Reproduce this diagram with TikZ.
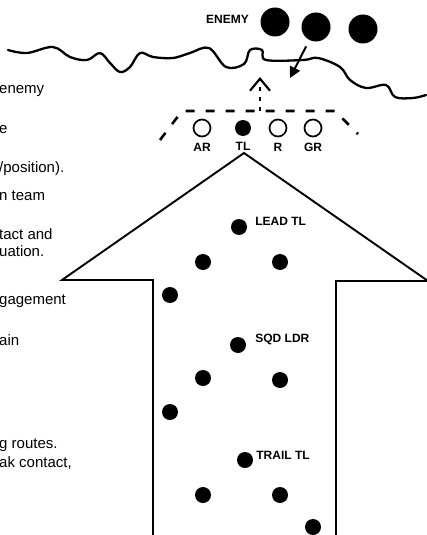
\documentclass[tikz,border=0pt]{standalone}
\usepackage{fontspec}
\setmainfont{Liberation Sans}
\usetikzlibrary{arrows.meta,positioning}

\begin{document}
\begin{tikzpicture}[
					x=1pt,y=-1pt,
					foe/.style={circle,fill=black,inner sep=0pt,minimum size=29pt},
					man/.style={circle,fill=black,inner sep=0pt,minimum size=16pt},
					spot/.style={circle,draw,line width=1.7pt,inner sep=0pt,minimum size=17pt},
					tag/.style={font=\fontsize{12}{12}\selectfont\bfseries,inner sep=0pt},
					note/.style={font=\fontsize{15}{13}\selectfont,inner sep=0pt,anchor=base west},
					fline/.style={line width=2.6pt,dash pattern=on 9pt off 11pt},
					aline/.style={line width=1.9pt,line join=miter}
					]
					\useasboundingbox (0,0) rectangle (426,535);
					% left hand notes, cut at the edge
					\foreach \t/\y in {{enemy}/93,{e}/133,{\slash position).}/172,{n team}/200,{tact and}/239,{uation.}/256,{gagement}/304,{ain}/345,{g routes.}/448,{ak contact,}/467}{
						\node[note] at (-1,\y) {\t};
					}
					% enemy and the terrain line
					\foreach \i/\x/\y in {1/275/22,2/316/27,3/363/29}{
						\node[foe] (e\i) at (\x,\y) {};
					}
					\node[tag,anchor=east] (enemy) at (249,19) {ENEMY};
					\draw[line width=2.3pt,line cap=round] plot[smooth,tension=0.6] coordinates {(8,50) (27,53) (53,47) (70,57) (87,60) (100,53) (110,63) (120,72) (130,67) (140,53) (153,57) (173,58) (190,53) (209,48) (226,67) (244,64) (250,50) (262,50) (266,60) (303,60) (318,58) (340,67) (350,80) (366,88) (386,85) (395,97) (413,98) (426,95)};
					\coordinate (hit) at (290,78);
					\draw[line width=2pt,shorten <=7pt,-{Triangle[length=11pt,width=11pt]}] (e2) -- (hit);
					% fire team in line
					\draw[fline] (160,140) -- (182,111) -- (335,111) -- (358,134);
					\draw[line width=1.4pt,dash pattern=on 4pt off 6pt,-{Straight Barb[length=12pt,width=20pt,line width=2.2pt]}] (260,111) -- (260,77);
					\foreach \n/\x/\s/\t in {ar/202/spot/AR,tl/243/man/TL,r/278/spot/R,gr/313/spot/GR}{
						\node[\s] (\n) at (\x,128) {};
						\node[tag,below=6pt of \n] (\n t) {\t};
					}
					% big arrow
					\draw[aline] (153,537) -- (153,280) -- (62,280) -- (244,153) -- (428,281) -- (336,281) -- (336,537);
					\foreach \n/\x/\y in {lead/239/227,m1/280/262,m2/203/262,m3/170/295,sqd/238/345,m4/203/378,m5/280/380,m6/170/412,trail/245/460,m7/203/495,m8/280/495,m9/313/527}{
						\node[man] (\n) at (\x,\y) {};
					}
					\node[tag,right=8pt of lead,yshift=6pt] (leadt) {LEAD TL};
					\node[tag,right=9pt of sqd,yshift=6pt] (sqdt) {SQD LDR};
					\node[tag,right=3pt of trail,yshift=5pt] (trailt) {TRAIL TL};
				\end{tikzpicture}
\end{document}
